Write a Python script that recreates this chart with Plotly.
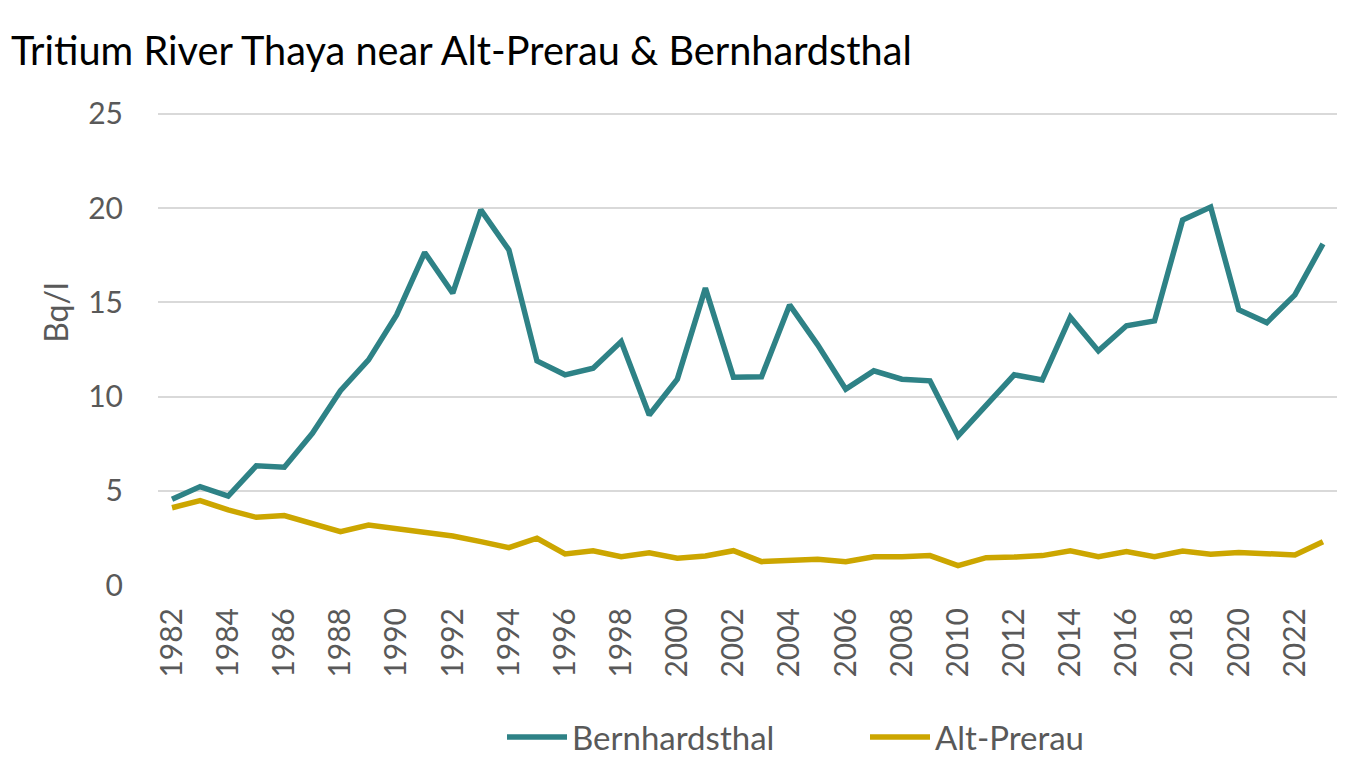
import plotly.graph_objects as go

years = list(range(1982, 2024))
bernhardsthal = [4.55, 5.22, 4.72, 6.32, 6.25, 8.05, 10.31, 11.94, 14.33, 17.64,
                 15.48, 19.9, 17.78, 11.89, 11.15, 11.5, 12.92, 9.02, 10.92, 15.75,
                 11.02, 11.05, 14.86, 12.74, 10.39, 11.36, 10.92, 10.83, 7.91, 9.55,
                 11.15, 10.88, 14.21, 12.42, 13.75, 14.01, 19.37, 20.05, 14.6, 13.92,
                 15.39, 18.1]
alt_prerau = [4.1, 4.48, 3.98, 3.59, 3.68, 3.27, 2.83, 3.18, 3.01, 2.83,
              2.6, 2.3, 1.98, 2.48, 1.65, 1.82, 1.5, 1.71, 1.42, 1.54,
              1.82, 1.24, 1.33, 1.36, 1.24, 1.5, 1.5, 1.56, 1.03, 1.45,
              1.48, 1.56, 1.82, 1.5, 1.77, 1.5, 1.8, 1.63, 1.73, 1.63,
              1.59, 2.3]
tick_years = [str(y) for y in range(1982, 2024, 2)]
y_ticks = [0, 5, 10, 15, 20, 25]

TEAL = "#2E8286"
GOLD = "#CCA600"
GRAY = "#595959"
FONT = "Lato"

x_cat = [str(y) for y in years]

fig = go.Figure()
fig.add_trace(go.Scatter(x=x_cat, y=bernhardsthal, mode="lines", name="Bernhardsthal",
                         line=dict(color=TEAL, width=5.5)))
fig.add_trace(go.Scatter(x=x_cat, y=alt_prerau, mode="lines", name="Alt-Prerau",
                         line=dict(color=GOLD, width=5.5)))

# page has an 8px body margin; figure occupies screen x 8..1370, y 8..778
OFF = 8
W, H = 1370 - OFF, 778 - OFF
YMAX = 25.2
L, R, B = 158 - OFF, 33, 193
T = (114 - 0.2 * 18.84) - OFF
PW, PH = W - L - R, H - T - B

fig.update_layout(
    width=W, height=H,
    margin=dict(l=L, r=R, t=T, b=B, autoexpand=False),
    paper_bgcolor="white", plot_bgcolor="white",
    font=dict(family=FONT, color=GRAY, size=30),
    title=dict(text="Tritium River Thaya near Alt-Prerau & Bernhardsthal",
               x=3 / W, xanchor="left", xref="container",
               y=1 - 43 / H, yanchor="middle", yref="container",
               font=dict(family=FONT, size=39.7, color="black")),
    showlegend=True,
    legend=dict(orientation="h", x=(502 - OFF - L) / PW, xanchor="left",
                y=-(737 - OFF - (H - B)) / PH, yanchor="middle",
                font=dict(family=FONT, size=33, color=GRAY),
                itemwidth=60, tracegroupgap=0, entrywidth=288),
)
fig.update_xaxes(type="category", range=[-0.5, len(years) - 0.5],
                 tickmode="array", tickvals=tick_years, ticktext=tick_years,
                 tickangle=-90, showgrid=False, zeroline=False, showline=False,
                 ticks="", ticklabelstandoff=16, automargin=False,
                 tickfont=dict(family=FONT, size=30, color=GRAY))
fig.update_yaxes(range=[0, YMAX], tickvals=y_ticks, showgrid=True, gridcolor="#D9D9D9", gridwidth=2,
                 zeroline=False, showline=False, ticks="", ticklabelstandoff=34, automargin=False,
                 tickfont=dict(family=FONT, size=30, color=GRAY))
fig.add_annotation(text="Bq/l", textangle=-90, xref="paper", yref="paper",
                   x=(56 - OFF - L) / PW, y=(H - B - (313 - OFF)) / PH,
                   xanchor="center", yanchor="middle", showarrow=False,
                   font=dict(family=FONT, size=32, color=GRAY))

fig.write_html("out.html")
